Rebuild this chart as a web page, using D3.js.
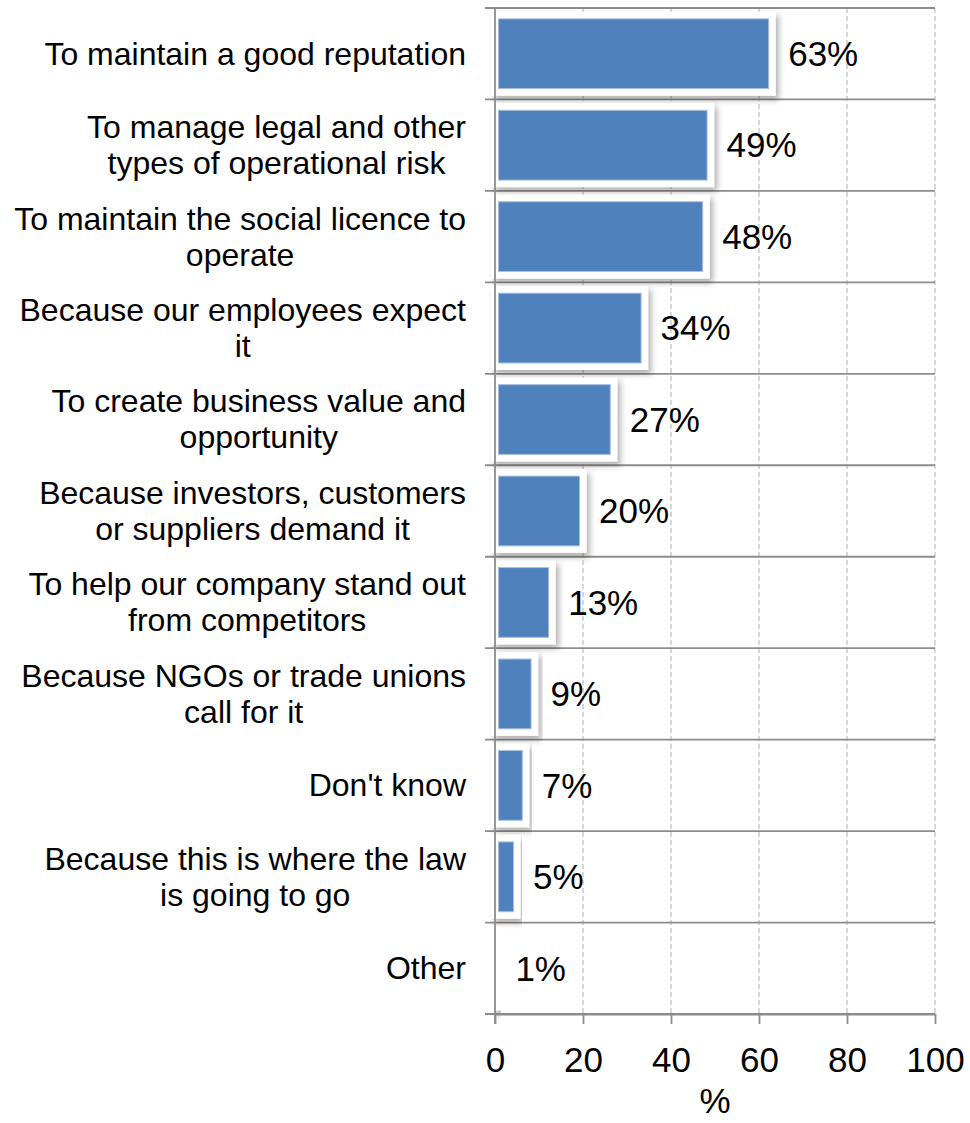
<!DOCTYPE html>
<html>
<head>
<meta charset="utf-8">
<script src="https://cdn.jsdelivr.net/npm/d3@7"></script>
<style>
  html, body { margin: 0; padding: 0; background: #fff; }
  svg { display: block; font-family: "Liberation Sans", Arial, sans-serif; }
</style>
</head>
<body>
<svg id="chart" width="970" height="1123"></svg>
<script>
// Reasons given, each label split into display lines with "|"
const categories = [
  "To maintain a good reputation",
  "To manage legal and other|types of operational risk",
  "To maintain the social licence to|operate",
  "Because our employees expect|it",
  "To create business value and|opportunity",
  "Because investors, customers|or suppliers demand it",
  "To help our company stand out|from competitors",
  "Because NGOs or trade unions|call for it",
  "Don't know",
  "Because this is where the law|is going to go",
  "Other"
];
const values = [63, 49, 48, 34, 27, 20, 13, 9, 7, 5, 1];
const xTicks = [0, 20, 40, 60, 80, 100];
const xTitle = "%";

const svg = d3.select("#chart");
const plotLeft = 495, plotRight = 935, plotTop = 8, plotBottom = 1014;

const x = d3.scaleLinear().domain([0, 100]).range([plotLeft, plotRight]);
const row = d3.scaleBand().domain(categories).range([plotTop, plotBottom]).padding(0);
const barPad = 0.08;

// soft drop shadow behind the framed bars
const defs = svg.append("defs");
const f = defs.append("filter").attr("id", "shadow")
  .attr("x", "-20%").attr("y", "-20%").attr("width", "140%").attr("height", "140%");
f.append("feDropShadow").attr("dx", 3).attr("dy", 4)
  .attr("stdDeviation", 3).attr("flood-color", "#000").attr("flood-opacity", 0.32);

// vertical dashed gridlines
svg.append("g").selectAll("line").data(xTicks.slice(1)).join("line")
  .attr("x1", d => x(d)).attr("x2", d => x(d))
  .attr("y1", plotTop).attr("y2", plotBottom)
  .attr("stroke", "#bdbdbd").attr("stroke-width", 1.2)
  .attr("stroke-dasharray", "5,3");

// horizontal row separators (extending left as category ticks)
const bounds = categories.map(c => row(c)).concat([plotBottom]);
svg.append("g").selectAll("line").data(bounds).join("line")
  .attr("x1", plotLeft - 10).attr("x2", plotRight)
  .attr("y1", d => d).attr("y2", d => d)
  .attr("stroke", "#8c8c8c").attr("stroke-width", 1.8);

const data = categories.map((c, i) => ({ c, v: values[i] }));

// bars: white frame with shadow, then blue fill
const bars = svg.append("g");
bars.selectAll("rect.frame").data(data).join("rect")
  .attr("class", "frame")
  .attr("x", x(0))
  .attr("y", d => row(d.c) + row.bandwidth() * barPad)
  .attr("width", d => x(d.v) - x(0))
  .attr("height", row.bandwidth() * (1 - 2 * barPad))
  .attr("fill", "#fff")
  .attr("stroke", "#fff").attr("stroke-width", 7)
  .attr("filter", "url(#shadow)");
bars.selectAll("rect.fill").data(data).join("rect")
  .attr("class", "fill")
  .attr("x", x(0) + 3.5)
  .attr("y", d => row(d.c) + row.bandwidth() * barPad + 3.5)
  .attr("width", d => Math.max(0, x(d.v) - x(0) - 7))
  .attr("height", row.bandwidth() * (1 - 2 * barPad) - 7)
  .attr("fill", "#4f81bd")
  .attr("stroke", "#a9c0e2").attr("stroke-width", 1);

// vertical axis line
svg.append("line")
  .attr("x1", plotLeft).attr("x2", plotLeft).attr("y1", plotTop).attr("y2", plotBottom + 10)
  .attr("stroke", "#8c8c8c").attr("stroke-width", 1.8);

// bottom axis
const xAxis = svg.append("g").attr("transform", `translate(0,${plotBottom})`)
  .call(d3.axisBottom(x).tickValues(xTicks).tickSize(10).tickPadding(23).tickSizeOuter(0));
xAxis.select(".domain").attr("stroke", "#8c8c8c").attr("stroke-width", 1.8);
xAxis.selectAll(".tick line").attr("stroke", "#8c8c8c").attr("stroke-width", 1.8);
xAxis.selectAll(".tick text").attr("fill", "#000")
  .style("font-size", "35px").style("font-family", "Liberation Sans, Arial, sans-serif");

svg.append("text")
  .attr("x", (plotLeft + plotRight) / 2).attr("y", 1113)
  .attr("text-anchor", "middle").style("font-size", "35px").text(xTitle);

// value labels
svg.append("g").selectAll("text").data(data).join("text")
  .attr("x", d => x(d.v) + 16)
  .attr("y", d => row(d.c) + row.bandwidth() / 2)
  .attr("dy", "0.35em")
  .style("font-size", "35px")
  .text(d => d.v + "%");

// category labels: block right-aligned at the axis gap, lines centred within it
const labelRight = 466;
const lineH = 36;
const catG = svg.append("g");
data.forEach(d => {
  const lines = d.c.split("|");
  const cy = row(d.c) + row.bandwidth() / 2;
  const t = catG.append("text")
    .attr("text-anchor", "middle")
    .style("font-size", "32px");
  const spans = lines.map((ln, i) => t.append("tspan")
    .attr("y", cy + (i - (lines.length - 1) / 2) * lineH)
    .attr("dy", "0.34em")
    .text(ln));
  const maxW = d3.max(spans, s => s.node().getComputedTextLength());
  spans.forEach(s => s.attr("x", labelRight - maxW / 2));
});
</script>
</body>
</html>
